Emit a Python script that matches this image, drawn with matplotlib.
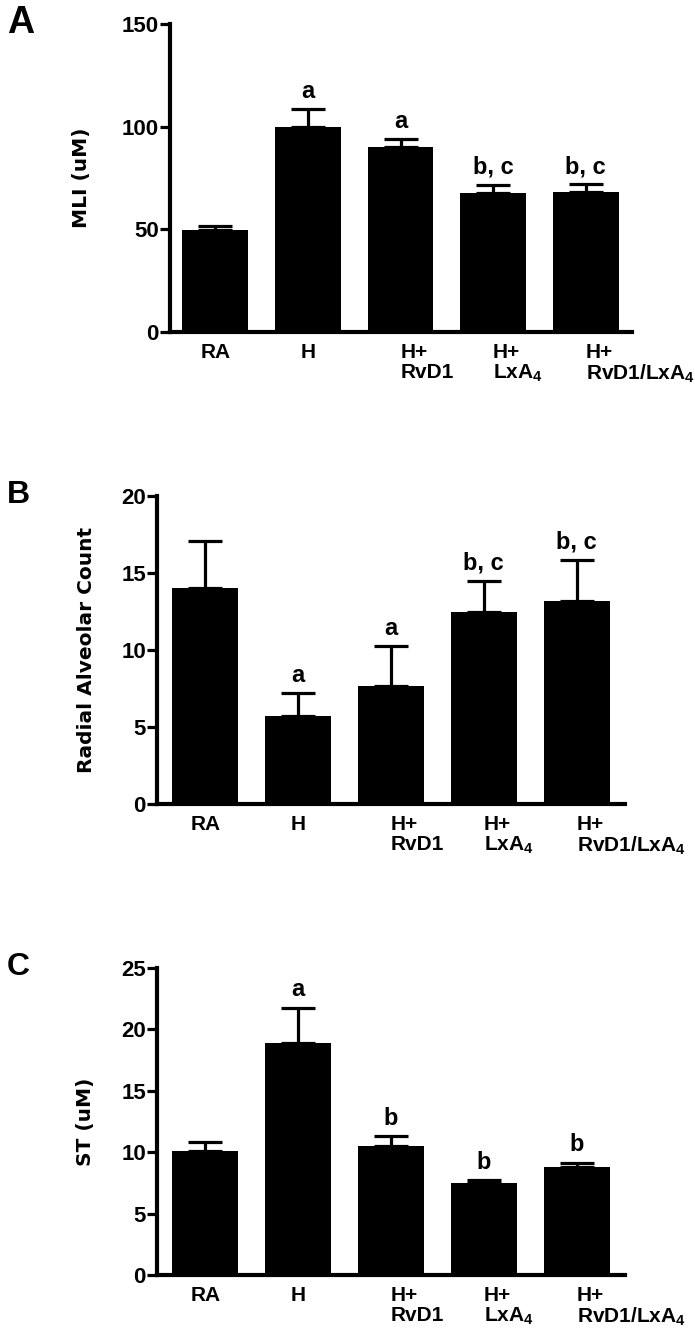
import numpy as np
import matplotlib
matplotlib.use('Agg')
import matplotlib.pyplot as plt
from matplotlib.transforms import ScaledTranslation

plt.rcParams['font.family'] = ['Liberation Sans', 'DejaVu Sans']
plt.rcParams['font.weight'] = 'bold'
plt.rcParams['mathtext.fontset'] = 'custom'
plt.rcParams['mathtext.rm'] = 'Liberation Sans:bold'
plt.rcParams['mathtext.it'] = 'Liberation Sans:bold'
plt.rcParams['mathtext.bf'] = 'Liberation Sans:bold'
plt.rcParams['mathtext.default'] = 'rm'

groups = ['RA', 'H', 'H+\nRvD1', 'H+\nLxA$_4$', 'H+\nRvD1/LxA$_4$']

mli = [49.6, 99.8, 90.1, 67.7, 68.0]
mli_err = [1.8, 8.6, 4.0, 3.9, 4.0]
mli_sig = ['', 'a', 'a', 'b, c', 'b, c']

rac = [14.05, 5.73, 7.68, 12.49, 13.2]
rac_err = [3.0, 1.46, 2.58, 2.0, 2.64]
rac_sig = ['', 'a', 'a', 'b, c', 'b, c']

st = [10.1, 18.88, 10.5, 7.52, 8.78]
st_err = [0.75, 2.9, 0.82, 0.22, 0.38]
st_sig = ['', 'a', 'b', 'b', 'b']

W, H = 695, 1340
fig = plt.figure(figsize=(W / 100, H / 100), dpi=100)


def px_rect(left, right, top, bottom):
    return [left / W, 1 - bottom / H, (right - left) / W, (bottom - top) / H]


def panel(rect, vals, errs, sigs, ymax, ystep, xlim, ylabel, ylab_x, letter, letter_y, letter_size):
    ax = fig.add_axes(px_rect(*rect))
    x = np.arange(len(vals))
    ax.bar(x, vals, width=0.71, color='black', zorder=2,
           yerr=[np.zeros(len(errs)), errs], capsize=12,
           error_kw=dict(elinewidth=2.3, capthick=2.3, ecolor='black', zorder=1))
    for i, s in enumerate(sigs):
        if s:
            ax.annotate(s, xy=(i, vals[i] + errs[i]), xytext=(0, 8),
                        textcoords='offset points', ha='center', va='baseline',
                        fontsize=17, fontweight='bold')
    ax.set_xlim(*xlim)
    ax.set_ylim(0, ymax)
    ax.set_yticks(np.arange(0, ymax + 0.1, ystep))
    ax.set_xticks(x)
    ax.set_xticklabels(groups, fontsize=15, fontweight='bold', linespacing=1.05)
    # "H+" sits centred under its bar, the second line starts at the same left edge
    shift = ScaledTranslation(-9.8 / 72, 0, fig.dpi_scale_trans)
    for lab in ax.get_xticklabels():
        if '\n' in lab.get_text():
            lab.set_horizontalalignment('left')
            lab.set_multialignment('left')
            lab.set_transform(lab.get_transform() + shift)
    for sp in ['top', 'right']:
        ax.spines[sp].set_visible(False)
    for sp in ['left', 'bottom']:
        ax.spines[sp].set_linewidth(3)
    ax.tick_params(axis='y', length=7, width=2.3, labelsize=16, pad=1)
    ax.tick_params(axis='x', length=0, pad=8)
    for lab in ax.get_yticklabels():
        lab.set_fontweight('bold')
    top, bottom = rect[2], rect[3]
    fig.text(ylab_x / W, 1 - (top + bottom) / 2 / H, ylabel, rotation=90,
             ha='center', va='center', fontsize=14.5, fontweight='bold',
             family='DejaVu Sans')
    fig.text(7 / W, 1 - letter_y / H, letter, ha='left', va='top',
             fontsize=letter_size, fontweight='bold')
    return ax


panel((170, 632, 24, 332), mli, mli_err, mli_sig, 150, 50, (-0.49, 4.5),
      'MLI (uM)', 82, 'A', 5, 27)
panel((157, 625, 496, 804), rac, rac_err, rac_sig, 20, 5, (-0.52, 4.52),
      'Radial Alveolar Count', 86, 'B', 480, 23)
panel((157, 625, 968, 1275), st, st_err, st_sig, 25, 5, (-0.52, 4.52),
      'ST (uM)', 85, 'C', 952, 23)

fig.savefig('out.png', dpi=100)
